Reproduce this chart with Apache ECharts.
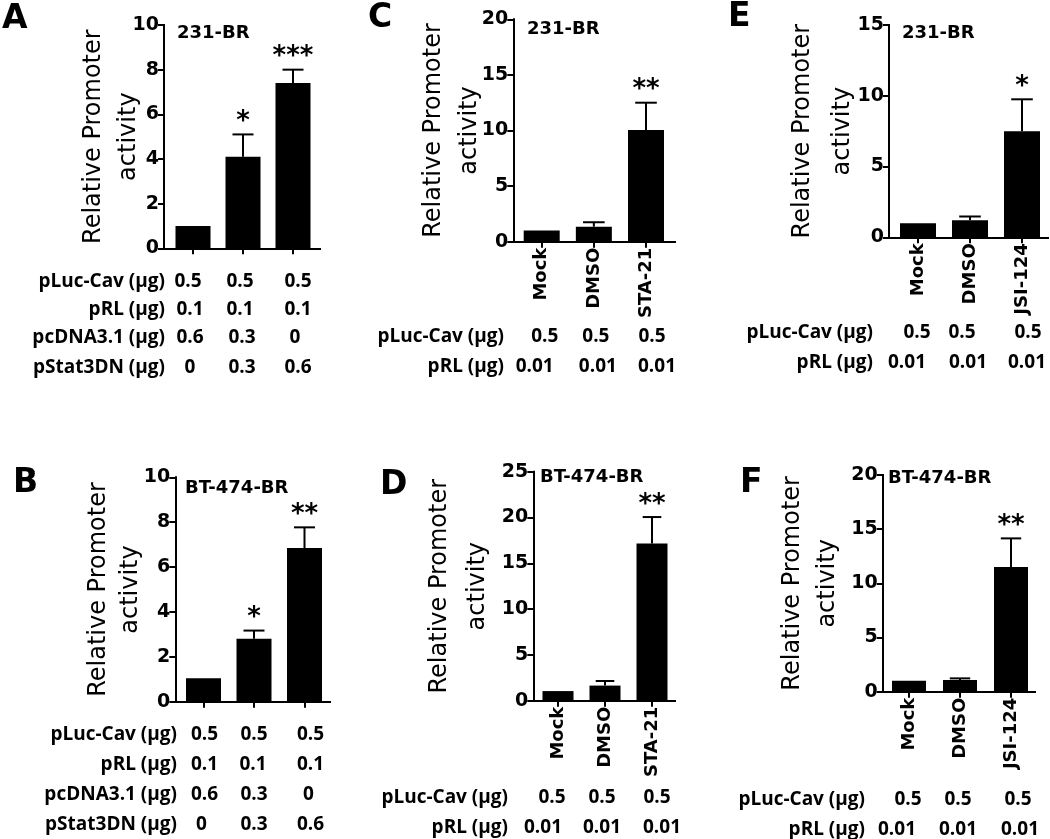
<!DOCTYPE html>
<html><head><meta charset="utf-8">
<script src="https://cdn.jsdelivr.net/npm/echarts@6/dist/echarts.min.js"></script>
<style>html,body{margin:0;padding:0;background:#fff}#c{width:1050px;height:839px}</style>
</head><body><div id="c"></div>
<script>
// ---------------- data ----------------
const panelLetters = ['A', 'B', 'C', 'D', 'E', 'F'];
const cellLines = ['231-BR', 'BT-474-BR', '231-BR', 'BT-474-BR', '231-BR', 'BT-474-BR'];
const yAxisName = 'Relative Promoter\nactivity';

const catsA = ['', '', ''];
const catsB = ['', '', ''];
const catsC = ['Mock', 'DMSO', 'STA-21'];
const catsD = ['Mock', 'DMSO', 'STA-21'];
const catsE = ['Mock', 'DMSO', 'JSI-124'];
const catsF = ['Mock', 'DMSO', 'JSI-124'];

const valsA = [1.0, 4.1, 7.4];     const errA = [0, 1.0, 0.6];   const starsA = ['', '*', '***'];
const valsB = [1.05, 2.8, 6.85];   const errB = [0, 0.37, 0.92]; const starsB = ['', '*', '**'];
const valsC = [1.0, 1.35, 10.05];  const errC = [0, 0.4, 2.45];  const starsC = ['', '', '**'];
const valsD = [1.05, 1.65, 17.15]; const errD = [0, 0.5, 2.9];   const starsD = ['', '', '**'];
const valsE = [1.0, 1.2, 7.5];     const errE = [0, 0.27, 2.25]; const starsE = ['', '', '*'];
const valsF = [1.0, 1.08, 11.5];   const errF = [0, 0.15, 2.65]; const starsF = ['', '', '**'];

// y-axis tick labels: max and step
const yMax = [10, 10, 20, 25, 15, 20];
const yStep = [2, 2, 5, 5, 5, 5];

const rowLabelsAB = ['pLuc-Cav (µg)', 'pRL (µg)', 'pcDNA3.1 (µg)', 'pStat3DN (µg)'];
const rowValsAB = [['0.5', '0.5', '0.5'], ['0.1', '0.1', '0.1'], ['0.6', '0.3', '0'], ['0', '0.3', '0.6']];
const rowLabelsCF = ['pLuc-Cav (µg)', 'pRL (µg)'];
const rowValsCF = [['0.5', '0.5', '0.5'], ['0.01', '0.01', '0.01']];

// ---------------- layout (pixels / styles) ----------------
const FONT = 'DejaVu Sans';
const TFONT = 'Open Sans';
const layout = [
  {axisX: 164, top: 25, zero: 248.3, end: 320, c: [193, 243, 293], barW: 35, nameGap: 18, lh: 35,
   letter: [2, 19], title: [177, 33], labelRight: 165, rowY: [282, 310, 338, 368], nudge: [[-5,-3,5],[-3,-3,5],[-3,-1,2],[-3,-1,5]]},
  {axisX: 175.3, top: 477.3, zero: 701.7, end: 330, c: [203.5, 253.5, 304.5], barW: 35, nameGap: 29, lh: 32,
   letter: [13, 483], title: [185, 488], labelRight: 177, rowY: [735, 765, 795, 825], nudge: [[1,0,6],[1,-1,6],[1,0,4],[-2,0,6]]},
  {axisX: 513.3, top: 19.3, zero: 241.7, end: 675, c: [541.7, 593.3, 646], barW: 36, nameGap: 26, lh: 36,
   letter: [368, 18], title: [527, 29], labelRight: 504, rowY: [337, 367], nudge: [[3,2,6],[-7,4,11]]},
  {axisX: 533.3, top: 471.7, zero: 700.7, end: 675, c: [558, 605, 652], barW: 31, nameGap: 37, lh: 38,
   letter: [380, 485], title: [540, 477], labelRight: 508, rowY: [798, 828], nudge: [[-6,-3,5],[-15,-3,10]]},
  {axisX: 889, top: 25, zero: 237.3, end: 1048, c: [918, 970, 1022], barW: 36, nameGap: 26, lh: 40,
   letter: [728, 17], title: [902, 33], labelRight: 873, rowY: [333, 363], nudge: [[-1,-8,6],[-11,-2,5]]},
  {axisX: 882.7, top: 475, zero: 691.7, end: 1035, c: [909, 959, 1011], barW: 34, nameGap: 37, lh: 35,
   letter: [740, 483], title: [888, 478], labelRight: 865, rowY: [800, 830], nudge: [[-1,-2,7],[-12,-2,9]]}
];

const panels = [
  {cats: catsA, vals: valsA, err: errA, stars: starsA, rows: rowLabelsAB, cells: rowValsAB},
  {cats: catsB, vals: valsB, err: errB, stars: starsB, rows: rowLabelsAB, cells: rowValsAB},
  {cats: catsC, vals: valsC, err: errC, stars: starsC, rows: rowLabelsCF, cells: rowValsCF},
  {cats: catsD, vals: valsD, err: errD, stars: starsD, rows: rowLabelsCF, cells: rowValsCF},
  {cats: catsE, vals: valsE, err: errE, stars: starsE, rows: rowLabelsCF, cells: rowValsCF},
  {cats: catsF, vals: valsF, err: errF, stars: starsF, rows: rowLabelsCF, cells: rowValsCF}
];

const chart = echarts.init(document.getElementById('c'), null, {renderer: 'canvas'});
const line = {color: '#000', width: 2, cap: 'square'};
const grids = [], xAxes = [], yAxes = [], series = [], graphics = [];

panels.forEach((p, i) => {
  const L = layout[i];
  const s = (L.c[2] - L.c[0]) / 2;
  grids.push({left: L.axisX, top: L.top, width: L.end - L.axisX, height: L.zero - L.top,
    containLabel: false, outerBoundsMode: 'none'});
  const hasCats = p.cats.some(c => c);
  xAxes.push({gridIndex: i, type: 'value', min: (L.axisX - L.c[0]) / s, max: 2 + (L.end - L.c[2]) / s,
    axisLine: {show: true, onZero: false, lineStyle: line},
    axisTick: {show: true, customValues: [0, 1, 2], length: 6, lineStyle: {color: '#000', width: 2}},
    axisLabel: {show: hasCats, customValues: [0, 1, 2], rotate: 90, margin: 6,
      formatter: v => p.cats[Math.round(v)] || '',
      color: '#000', fontFamily: FONT, fontWeight: 'bold', fontSize: 18},
    splitLine: {show: false}});
  yAxes.push({gridIndex: i, type: 'value', min: 0, max: yMax[i], interval: yStep[i],
    axisLine: {show: true, onZero: false, lineStyle: line},
    axisTick: {show: true, length: 6, lineStyle: {color: '#000', width: 2}},
    axisLabel: {margin: 5, color: '#000', fontFamily: FONT, fontWeight: 'bold', fontSize: 19},
    splitLine: {show: false},
    name: yAxisName, nameLocation: 'middle', nameRotate: 90, nameGap: L.nameGap, nameMoveOverlap: false,
    nameTextStyle: {fontFamily: FONT, fontSize: 24, lineHeight: L.lh, color: '#000'}});
  // bars
  series.push({type: 'bar', xAxisIndex: i, yAxisIndex: i, barWidth: L.barW, silent: true,
    itemStyle: {color: '#000'}, data: p.vals.map((v, k) => [k, v])});
  // error bars + significance stars
  series.push({type: 'custom', xAxisIndex: i, yAxisIndex: i, silent: true, clip: false,
    encode: {x: 0, y: 1},
    data: p.vals.map((v, k) => [k, v, v + p.err[k]]),
    renderItem: (params, api) => {
      const x = api.value(0), v = api.value(1), t = api.value(2);
      const pb = api.coord([x, v]), pt = api.coord([x, t]);
      const cap = L.barW * 0.6;
      const ch = [];
      if (t > v) {
        ch.push({type: 'line', shape: {x1: pb[0], y1: pb[1], x2: pt[0], y2: pt[1]}, style: {stroke: '#000', lineWidth: 2}});
        ch.push({type: 'line', shape: {x1: pt[0] - cap / 2, y1: pt[1], x2: pt[0] + cap / 2, y2: pt[1]}, style: {stroke: '#000', lineWidth: 2}});
      }
      const star = p.stars[params.dataIndex];
      if (star) ch.push({type: 'text', x: pt[0], y: pt[1] - 12,
        style: {text: star, fill: '#000', fontFamily: FONT, fontWeight: 'bold', fontSize: 26, textAlign: 'center', textVerticalAlign: 'middle'}});
      return {type: 'group', children: ch};
    }});
  // table values under each column, placed through the x axis
  const cellData = [];
  p.cells.forEach((row, r) => row.forEach((val, k) => cellData.push([k, 0, r])));
  series.push({type: 'custom', xAxisIndex: i, yAxisIndex: i, silent: true, clip: false,
    encode: {x: 0, y: 1},
    data: cellData,
    renderItem: (params, api) => {
      const k = api.value(0), r = api.value(2);
      const px = api.coord([k, 0])[0];
      return {type: 'text', x: px + L.nudge[r][k], y: L.rowY[r],
        style: {text: p.cells[r][k], fill: '#000', fontFamily: TFONT, fontWeight: 'bold', fontSize: 19, textAlign: 'center', textVerticalAlign: 'middle'}};
    }});
  graphics.push({type: 'text', x: L.letter[0], y: L.letter[1],
    style: {text: panelLetters[i], fill: '#000', fontFamily: FONT, fontWeight: 'bold', fontSize: 33, textAlign: 'left', textVerticalAlign: 'middle'}});
  graphics.push({type: 'text', x: L.title[0], y: L.title[1],
    style: {text: cellLines[i], fill: '#000', fontFamily: FONT, fontWeight: 'bold', fontSize: 18, textAlign: 'left', textVerticalAlign: 'middle'}});
  p.rows.forEach((lab, r) => {
    graphics.push({type: 'text', x: L.labelRight, y: L.rowY[r],
      style: {text: lab, fill: '#000', fontFamily: TFONT, fontWeight: 'bold', fontSize: 19, textAlign: 'right', textVerticalAlign: 'middle'}});
  });
});

chart.setOption({animation: false, backgroundColor: '#fff',
  grid: grids, xAxis: xAxes, yAxis: yAxes, series: series, graphic: graphics});
</script></body></html>
